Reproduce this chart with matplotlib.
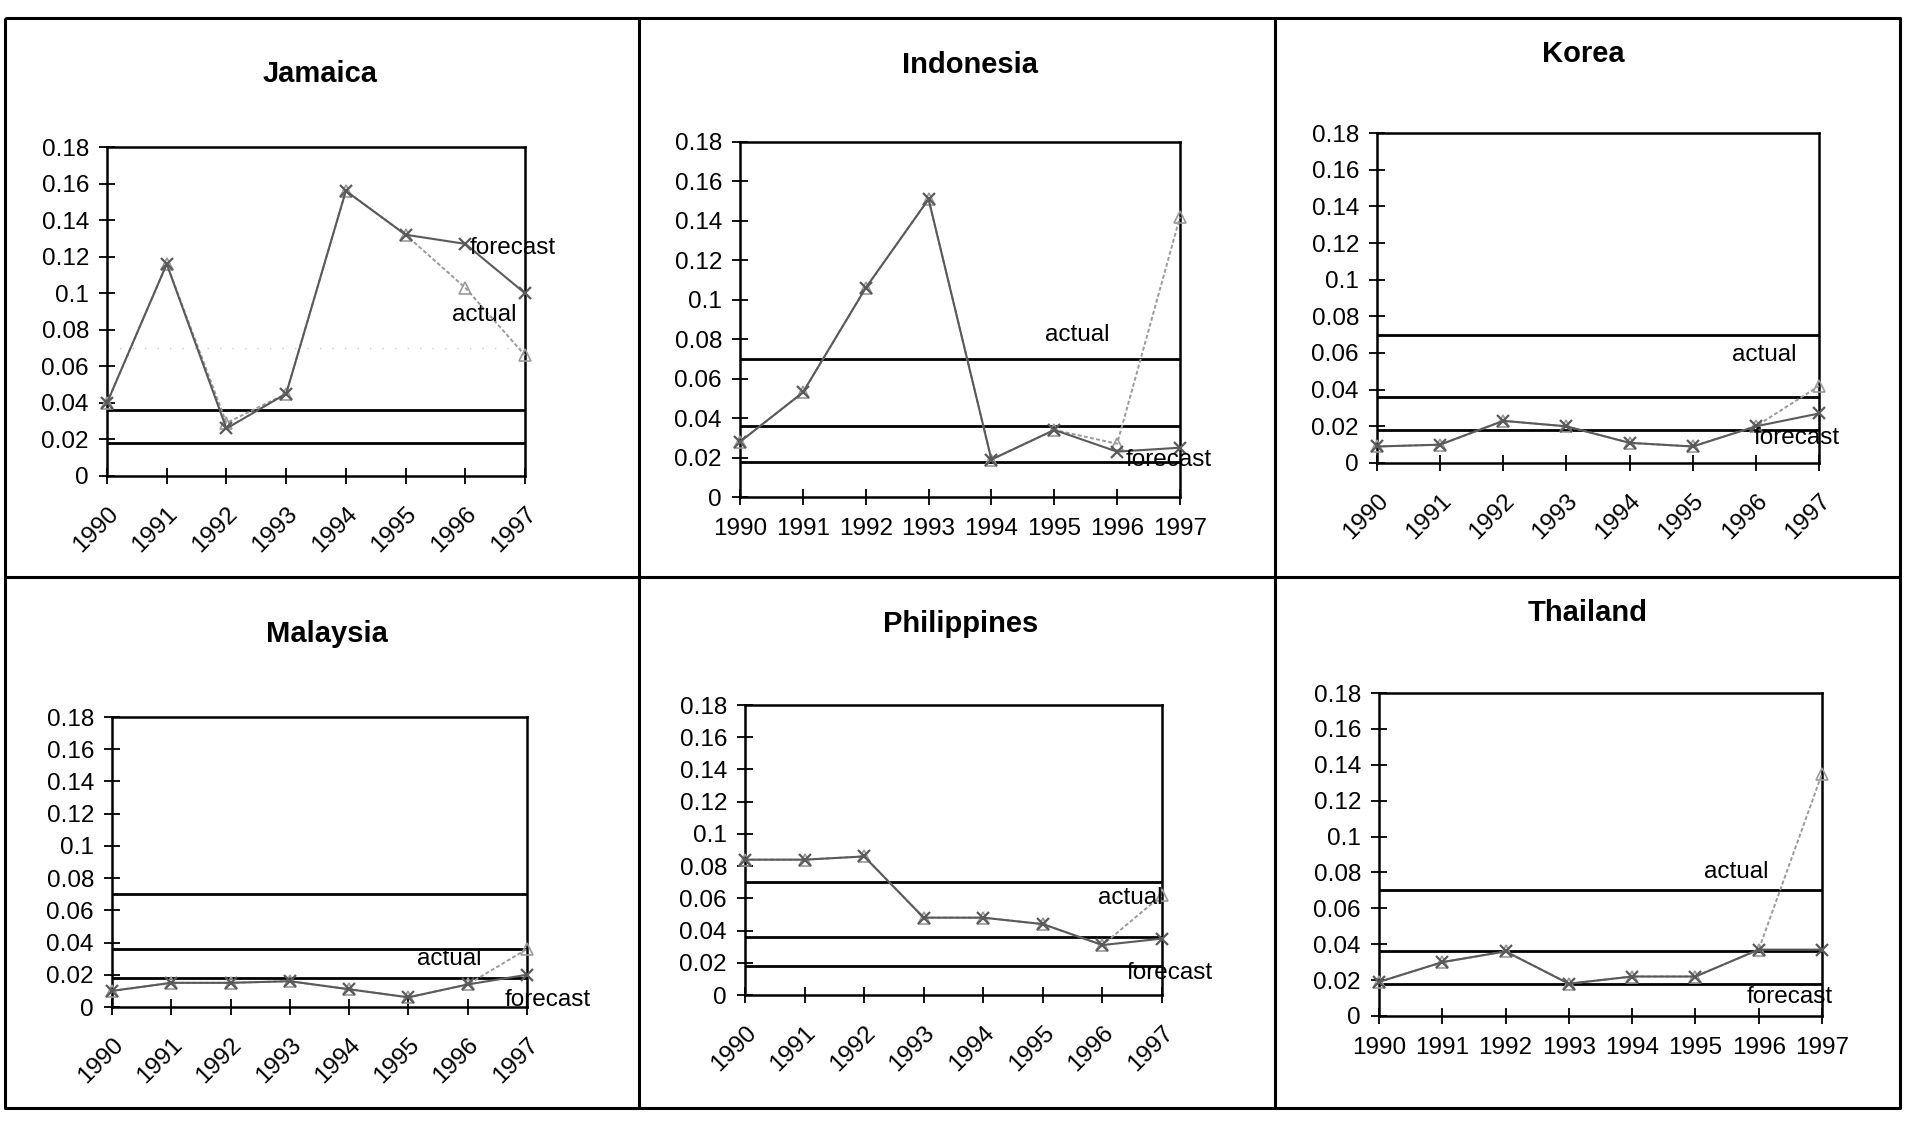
import matplotlib
matplotlib.use("Agg")
import matplotlib.pyplot as plt

plt.rcParams['font.family'] = ['Liberation Sans', 'DejaVu Sans']

years = ['1990', '1991', '1992', '1993', '1994', '1995', '1996', '1997']
countries = ['Jamaica', 'Indonesia', 'Korea', 'Malaysia', 'Philippines', 'Thailand']

# horizontal reference levels drawn in every panel
thresholds = [0.018, 0.036, 0.07]

jamaica_forecast = [0.040, 0.116, 0.026, 0.045, 0.156, 0.132, 0.127, 0.100]
jamaica_actual = [0.040, 0.116, 0.029, 0.045, 0.156, 0.132, 0.103, 0.066]
indonesia_forecast = [0.028, 0.053, 0.106, 0.151, 0.019, 0.034, 0.023, 0.025]
indonesia_actual = [0.028, 0.053, 0.106, 0.151, 0.019, 0.034, 0.027, 0.142]
korea_forecast = [0.009, 0.010, 0.023, 0.020, 0.011, 0.009, 0.020, 0.027]
korea_actual = [0.009, 0.010, 0.023, 0.020, 0.011, 0.009, 0.020, 0.042]
malaysia_forecast = [0.010, 0.015, 0.015, 0.016, 0.011, 0.006, 0.014, 0.020]
malaysia_actual = [0.010, 0.015, 0.015, 0.016, 0.011, 0.006, 0.014, 0.036]
philippines_forecast = [0.084, 0.084, 0.086, 0.048, 0.048, 0.044, 0.031, 0.035]
philippines_actual = [0.084, 0.084, 0.086, 0.048, 0.048, 0.044, 0.031, 0.062]
thailand_forecast = [0.019, 0.030, 0.036, 0.018, 0.022, 0.022, 0.037, 0.037]
thailand_actual = [0.019, 0.030, 0.036, 0.018, 0.022, 0.022, 0.037, 0.135]

forecasts = [jamaica_forecast, indonesia_forecast, korea_forecast,
             malaysia_forecast, philippines_forecast, thailand_forecast]
actuals = [jamaica_actual, indonesia_actual, korea_actual,
           malaysia_actual, philippines_actual, thailand_actual]

W, H = 1914, 1123
fig = plt.figure(figsize=(W / 100, H / 100), dpi=100)

# table frame around the six panels (pixel coords)
bg = fig.add_axes([0, 0, 1, 1])
bg.set_xlim(0, W)
bg.set_ylim(H, 0)
bg.axis('off')
fl, fr, ft, fb = 5, 1900, 18, 1108
frame_kw = dict(color='black', lw=2.2, solid_capstyle='butt')
bg.plot([fl, fr, fr, fl, fl], [ft, ft, fb, fb, ft], **frame_kw)
bg.plot([639, 639], [ft, fb], **frame_kw)
bg.plot([1275, 1275], [ft, fb], **frame_kw)
bg.plot([fl, fr], [577, 577], **frame_kw)

# plot area boxes: left, right, top, bottom in pixels
boxes = [(107, 525, 147, 476), (740, 1180, 142, 497), (1377, 1819, 133, 463),
         (112, 527, 717, 1007), (745, 1162, 705, 995), (1379, 1822, 693, 1016)]
title_xy = [(320, 74), (970, 65), (1583, 54), (327, 634), (961, 624), (1588, 613)]
rotated = [True, False, True, True, True, False]
# (x, y) of the 'actual' and 'forecast' tags, in data units
actual_tag = [(5.77, 0.088), (4.86, 0.082), (5.63, 0.059),
              (5.14, 0.030), (5.93, 0.060), (5.14, 0.080)]
forecast_tag = [(6.08, 0.125), (6.13, 0.019), (5.96, 0.0136),
                (6.63, 0.0043), (6.40, 0.0137), (5.81, 0.0106)]

x = list(range(len(years)))

for i, name in enumerate(countries):
    l, r, t, b = boxes[i]
    ax = fig.add_axes([l / W, 1 - b / H, (r - l) / W, (b - t) / H])

    for k, level in enumerate(thresholds):
        if i == 0 and k == 2:
            # barely visible in the Jamaica panel
            ax.axhline(level, color='#cccccc', lw=1.0, ls=(0, (1, 8)))
        else:
            ax.axhline(level, color='black', lw=2.0)

    ax.plot(x, actuals[i], color='#9a9a9a', lw=1.4, ls=(0, (2, 1.2)),
            marker='^', ms=8, mfc='none', mew=1.2, clip_on=False, zorder=3)
    ax.plot(x, forecasts[i], color='#5a5a5a', lw=1.5,
            marker='x', ms=9, mew=1.6, clip_on=False, zorder=4)

    ax.set_xlim(0, 7)
    ax.set_ylim(0, 0.18)
    ax.set_yticks([0, 0.02, 0.04, 0.06, 0.08, 0.1, 0.12, 0.14, 0.16, 0.18])
    ax.set_yticklabels(['0', '0.02', '0.04', '0.06', '0.08', '0.1',
                        '0.12', '0.14', '0.16', '0.18'])
    ax.set_xticks(x)
    if rotated[i]:
        ax.set_xticklabels(years, rotation=45, ha='right', rotation_mode='anchor')
        ax.tick_params(axis='x', pad=13)
    else:
        ax.set_xticklabels(years)
        ax.tick_params(axis='x', pad=9)
    ax.tick_params(direction='inout', length=12, width=1.3, labelsize=17.5,
                   colors='black')
    ax.tick_params(axis='y', pad=7)
    for s in ax.spines.values():
        s.set_linewidth(1.8)
        s.set_color('black')

    ax.text(*actual_tag[i], 'actual', fontsize=17.5, ha='left', va='center',
            clip_on=False, zorder=5)
    ax.text(*forecast_tag[i], 'forecast', fontsize=17.5, ha='left', va='center',
            clip_on=False, zorder=5)

    tx, ty = title_xy[i]
    fig.text(tx / W, 1 - ty / H, name, fontsize=21, fontweight='bold',
             ha='center', va='center')

fig.savefig('out.png', dpi=100, facecolor='white')
